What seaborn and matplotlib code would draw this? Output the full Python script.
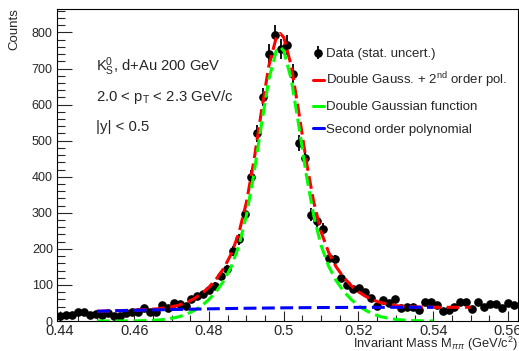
import numpy as np
import matplotlib
matplotlib.use('Agg')
import matplotlib.pyplot as plt
from matplotlib.lines import Line2D
from matplotlib.ticker import MultipleLocator, FuncFormatter
import seaborn as sns

# K0s -> pi pi invariant mass histogram (bin width 1.6 MeV/c^2)
bin_low = 0.4393
bin_width = 0.0016
counts = [15, 17, 17, 24, 26, 17, 19, 17, 22, 15,
          13, 22, 24, 26, 35, 24, 24, 44, 35, 51,
          46, 42, 61, 70, 74, 87, 98, 125, 144, 194,
          227, 296, 398, 520, 620, 741, 792, 755, 766, 686,
          494, 453, 295, 278, 256, 174, 171, 120, 101, 88,
          91, 80, 63, 42, 58, 49, 61, 35, 40, 40,
          30, 52, 52, 44, 28, 30, 40, 52, 53, 33,
          52, 38, 47, 47, 35, 49, 44]
mass = np.round(bin_low + bin_width * (np.arange(len(counts)) + 0.5), 4)
stat_err = np.sqrt(counts)

# fit curves
fit_mass = np.r_[np.arange(0.450, 0.4985, 0.002), 0.499, np.arange(0.500, 0.5505, 0.002)]
total_fit = [27, 27.6, 28.2, 28.8, 29.4, 30, 31, 32.2, 33.7, 36,
             39.4, 44.3, 51.6, 62, 75.5, 94, 117.6, 147, 187.3, 244.5,
             329, 443.5, 579.8, 707, 786.3, 797.4, 786.5, 707.5, 580.6, 444.8,
             331, 247, 190.4, 150.4, 121.5, 98.6, 80.7, 67.8, 57.8, 50.9,
             46.6, 42.5, 40.6, 39.5, 38.8, 38.4, 38.2, 38, 38, 38,
             37.9, 37.9]

sig_mass = np.r_[np.arange(0.450, 0.4985, 0.002), 0.499, np.arange(0.500, 0.5405, 0.002)]
signal_fit = [0, 0, 0.1, 0.1, 0.2, 0.4, 0.8, 1.5, 2.6, 4.5,
              7.6, 12, 19, 29, 42, 60, 83, 112, 152, 209,
              293, 407, 543, 670, 749, 760, 749, 670, 543, 407,
              293, 209, 152, 112, 83, 60, 42, 29, 19, 12,
              7.6, 4.5, 2.6, 1.5, 0.8, 0.4, 0.2]

bkg_mass = [0.45, 0.46, 0.47, 0.48, 0.49, 0.50, 0.51, 0.52, 0.53, 0.54]
bkg_fit = [27, 29.6, 31.8, 33.7, 35.3, 36.5, 37.3, 37.8, 38, 38]

legend_labels = ["Data (stat. uncert.)",
                 r"Double Gauss. + 2$^{\rm nd}$ order pol.",
                 "Double Gaussian function",
                 "Second order polynomial"]

sns.set_theme(style="ticks")
plt.rcParams['font.family'] = ['Liberation Sans', 'DejaVu Sans']
plt.rcParams['mathtext.fontset'] = 'custom'
plt.rcParams['mathtext.rm'] = 'Liberation Sans'
plt.rcParams['mathtext.it'] = 'Liberation Sans:italic'
plt.rcParams['mathtext.bf'] = 'Liberation Sans:bold'

fig = plt.figure(figsize=(5.19, 3.51), dpi=100)
ax = fig.add_axes([57 / 519, 1 - 321 / 351, 461 / 519, 312 / 351])

data = ax.errorbar(mass, counts, yerr=stat_err, fmt='o', color='black', ms=5.2,
                   elinewidth=1.3, capsize=0, zorder=2)

dash = (0, (4.2, 1.8))
sns.lineplot(x=fit_mass, y=total_fit, color='#ff0000', lw=2.2, linestyle=dash, ax=ax, zorder=3)
sns.lineplot(x=sig_mass, y=signal_fit, color='#00ff00', lw=2.2, linestyle=dash, ax=ax, zorder=4)
sns.lineplot(x=bkg_mass, y=bkg_fit, color='#0000ff', lw=2.2, linestyle=dash, ax=ax, zorder=5)

ax.set_xlim(0.4393, 0.5627)
ax.set_ylim(0, 865)
ax.xaxis.set_major_locator(MultipleLocator(0.02))
ax.xaxis.set_minor_locator(MultipleLocator(0.005))
ax.yaxis.set_major_locator(MultipleLocator(100))
ax.yaxis.set_minor_locator(MultipleLocator(20))
ax.xaxis.set_major_formatter(FuncFormatter(lambda v, p: f"{v:g}"))
ax.tick_params(axis='x', which='major', direction='in', length=7, width=0.8,
               labelsize=10.5, pad=2, top=False)
ax.tick_params(axis='x', which='minor', direction='in', length=4, width=0.8, top=False)
ax.tick_params(axis='y', which='major', direction='in', length=11, width=0.8,
               labelsize=9, pad=3, right=False)
ax.tick_params(axis='y', which='minor', direction='in', length=6, width=0.8, right=False)
for s in ax.spines.values():
    s.set_linewidth(0.8)
    s.set_color('black')
ax.set_xlabel('')
ax.set_ylabel('')

fig.text(14 / 519, 1 - 8 / 351, "Counts", rotation=90, ha='center', va='top', fontsize=9.5)
fig.text(518 / 519, 1 - 344 / 351, r"Invariant Mass M$_{\pi\pi}$ (GeV/c$^2$)",
         ha='right', va='center', fontsize=9.3)

fig.text(96 / 519, 1 - 67 / 351, r"K$_{\rm S}^{0}$, d+Au 200 GeV", ha='left', va='center', fontsize=10.6)
fig.text(96 / 519, 1 - 97 / 351, r"2.0 < p$_{\rm T}$ < 2.3 GeV/c", ha='left', va='center', fontsize=10.7)
fig.text(96 / 519, 1 - 127 / 351, "|y| < 0.5", ha='left', va='center', fontsize=10.7)

handles = [data,
           Line2D([], [], color='#ff0000', lw=2.2),
           Line2D([], [], color='#00ff00', lw=2.2),
           Line2D([], [], color='#0000ff', lw=2.2)]
ax.legend(handles, legend_labels, loc='upper left', bbox_to_anchor=(313 / 519, 1 - 48 / 351),
          bbox_transform=fig.transFigure, frameon=False, fontsize=9.5, handlelength=0.8,
          handletextpad=0.2, labelspacing=0.8, borderpad=0, borderaxespad=0)

fig.savefig('out.png', dpi=100, facecolor='white')
